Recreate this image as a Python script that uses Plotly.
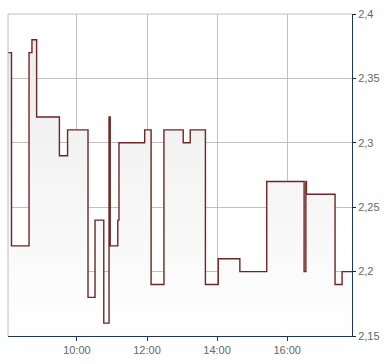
import plotly.graph_objects as go

times = ["08:02", "08:08", "08:38", "08:43", "08:51", "09:30", "09:44", "10:19", "10:31",
         "10:46", "10:55", "10:57", "11:10", "11:12", "11:56", "12:07", "12:29", "13:02",
         "13:14", "13:40", "14:02", "14:39", "15:25", "16:29", "16:32", "16:33", "17:22",
         "17:34", "17:51"]
prices = [2.37, 2.22, 2.37, 2.38, 2.32, 2.29, 2.31, 2.18, 2.24,
          2.16, 2.32, 2.22, 2.24, 2.30, 2.31, 2.19, 2.31, 2.30,
          2.31, 2.19, 2.21, 2.20, 2.27, 2.20, 2.27, 2.26, 2.19,
          2.20, 2.20]
y_ticks = [2.15, 2.2, 2.25, 2.3, 2.35, 2.4]
x_ticks = ["10:00", "12:00", "14:00", "16:00"]

day = "2024-01-02 "
xs = [day + t for t in times]

fig = go.Figure()
fig.add_trace(go.Scatter(
    x=xs, y=prices, mode="lines",
    line=dict(color="#6e2525", width=1.4, shape="hv"),
    fill="tozeroy",
    fillgradient=dict(type="vertical", colorscale=[[0, "#ffffff"], [1, "#ebebeb"]],
                      start=2.15, stop=2.4),
    hoverinfo="skip",
))

fig.update_layout(
    width=390, height=364,
    margin=dict(l=8, r=38, t=11, b=24),
    paper_bgcolor="white", plot_bgcolor="white",
    showlegend=False,
    separators=",.",
    font=dict(family="Liberation Sans, Arial", size=11, color="#666666"),
    xaxis=dict(
        range=[xs[0], xs[-1]],
        tickvals=[day + t for t in x_ticks], ticktext=x_ticks,
        showgrid=True, gridcolor="#c0c0c0", gridwidth=1,
        showline=True, linecolor="#1b3560", linewidth=1,
        ticks="outside", ticklen=4, tickcolor="#1b3560",
        zeroline=False,
    ),
    yaxis=dict(
        range=[2.15, 2.4], side="right",
        tickvals=y_ticks,
        ticktext=[str(v).replace(".", ",") for v in y_ticks],
        showgrid=True, gridcolor="#c0c0c0", gridwidth=1,
        showline=True, linecolor="#1b3560", linewidth=1,
        ticks="outside", ticklen=3, tickcolor="#222222",
        zeroline=False,
    ),
    shapes=[
        dict(type="line", xref="paper", yref="paper", x0=0, x1=0, y0=0, y1=1,
             line=dict(color="#c0c0c0", width=1)),
        dict(type="line", xref="paper", yref="paper", x0=0, x1=1, y0=1, y1=1,
             line=dict(color="#c0c0c0", width=1)),
    ],
)

fig.write_html("out.html")
